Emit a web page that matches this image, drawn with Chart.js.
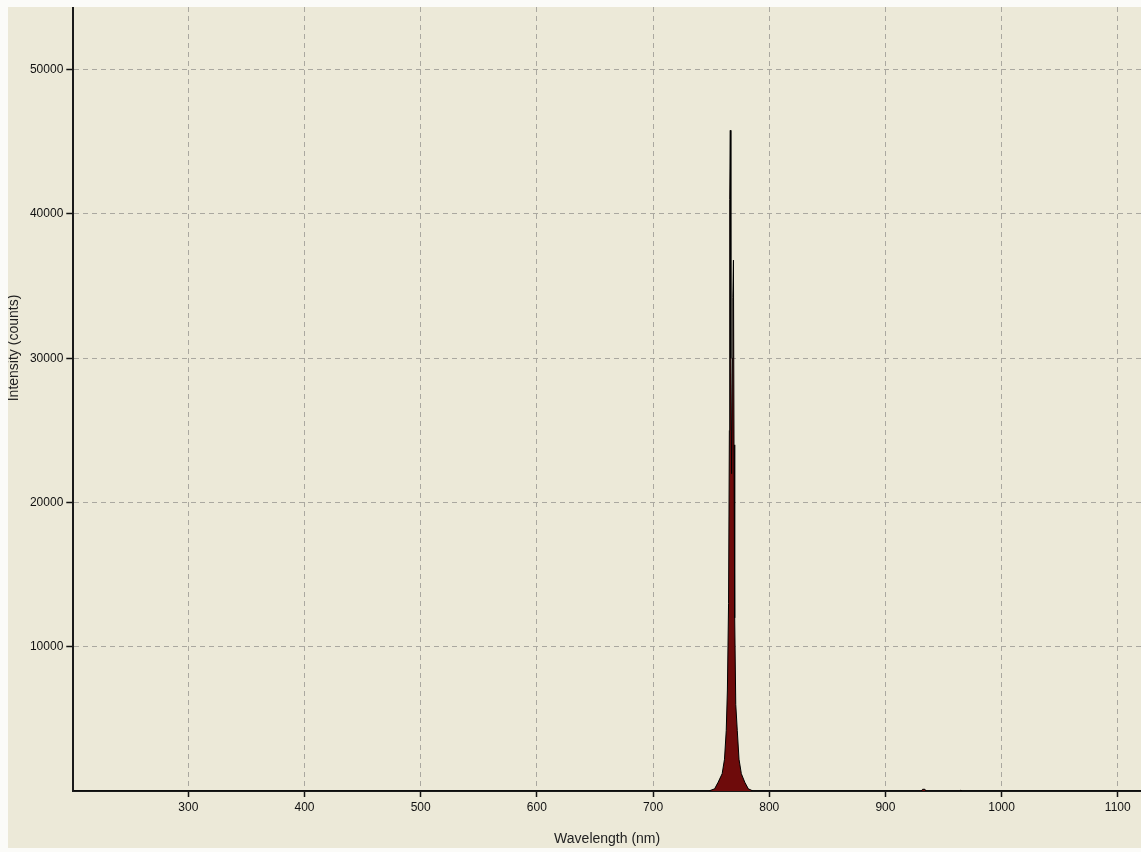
<!DOCTYPE html>
<html>
<head>
<meta charset="utf-8">
<script src="https://cdn.jsdelivr.net/npm/chart.js@4.4.1/dist/chart.umd.min.js"></script>
<style>
  html, body { margin: 0; padding: 0; background: #fbfbf8; }
  #frame { position: absolute; left: 8px; top: 7px; width: 1133px; height: 841px; background: #ece9d8; }
</style>
</head>
<body>
<div id="frame"><canvas id="spectrum"></canvas></div>
<script>
// spectrum samples (nm, counts)
const wavelengths = [201, 748, 753, 756, 759.5, 761.5, 763, 764, 765, 765.7, 766.0, 766.5, 767.0, 767.6,
  768.3, 768.7, 769.2, 769.7, 770.3, 771.2, 772.5, 774, 776, 779, 782, 786,
  925, 931, 932, 934, 935, 964, 965, 966, 1120];
const counts = [0, 0, 150, 600, 1200, 2200, 4200, 7000, 13000, 25000, 41000, 45800, 30000, 22000,
  30000, 34200, 36800, 24000, 12000, 6000, 4200, 2200, 1200, 600, 150, 0,
  0, 0, 120, 120, 0, 0, 60, 0, 0];

const xTicks = [300, 400, 500, 600, 700, 800, 900, 1000, 1100];
const yTicks = [10000, 20000, 30000, 40000, 50000];

const tickFont = { family: '"Liberation Sans", Arial, sans-serif', size: 12 };

// y title sits above the axis centre in the original, so draw it by hand
const yTitlePlugin = {
  id: 'yTitle',
  afterDraw(chart) {
    const { ctx, chartArea } = chart;
    ctx.save();
    ctx.translate(6, (chartArea.top + chartArea.bottom) / 2 - 51);
    ctx.rotate(-Math.PI / 2);
    ctx.font = '14px "Liberation Sans", Arial, sans-serif';
    ctx.fillStyle = '#222';
    ctx.textAlign = 'center';
    ctx.textBaseline = 'middle';
    ctx.fillText('Intensity (counts)', 0, 0);
    ctx.restore();
  }
};

const ctx = document.getElementById('spectrum').getContext('2d');
new Chart(ctx, {
  type: 'line',
  data: {
    datasets: [{
      data: wavelengths.map((w, i) => ({ x: w, y: counts[i] })),
      borderColor: '#000',
      borderWidth: 1,
      backgroundColor: '#6e0b0b',
      fill: 'origin',
      pointRadius: 0,
      tension: 0
    }]
  },
  options: {
    responsive: true,
    maintainAspectRatio: false,
    animation: false,
    layout: { padding: 0 },
    plugins: { legend: { display: false }, tooltip: { enabled: false } },
    scales: {
      x: {
        type: 'linear',
        min: 201,
        max: 1120,
        afterBuildTicks: s => { s.ticks = xTicks.map(v => ({ value: v })); },
        afterFit: s => { s.height = 57; s.paddingLeft = 0; s.paddingRight = 0; },
        ticks: { font: tickFont, color: '#111', padding: 3, maxRotation: 0, autoSkip: false, callback: v => String(v) },
        grid: { color: '#aaa8a0', tickColor: '#111', tickLength: 6, tickWidth: 1.5 },
        border: { color: '#1a1a1a', width: 2, dash: [5, 4] },
        title: { display: true, text: 'Wavelength (nm)', color: '#222', font: { family: '"Liberation Sans", Arial, sans-serif', size: 14 }, padding: { top: 6, bottom: 0 } }
      },
      y: {
        min: 0,
        max: 54350,
        afterBuildTicks: s => { s.ticks = yTicks.map(v => ({ value: v })); },
        afterFit: s => { s.width = 65.3; s.paddingTop = 0; s.paddingBottom = 0; },
        ticks: { font: tickFont, color: '#111', padding: 3, callback: v => String(v) },
        grid: { color: '#aaa8a0', tickColor: '#111', tickLength: 7, tickWidth: 1.5 },
        border: { color: '#1a1a1a', width: 2, dash: [5, 4] }
      }
    }
  },
  plugins: [yTitlePlugin]
});
</script>
</body>
</html>
